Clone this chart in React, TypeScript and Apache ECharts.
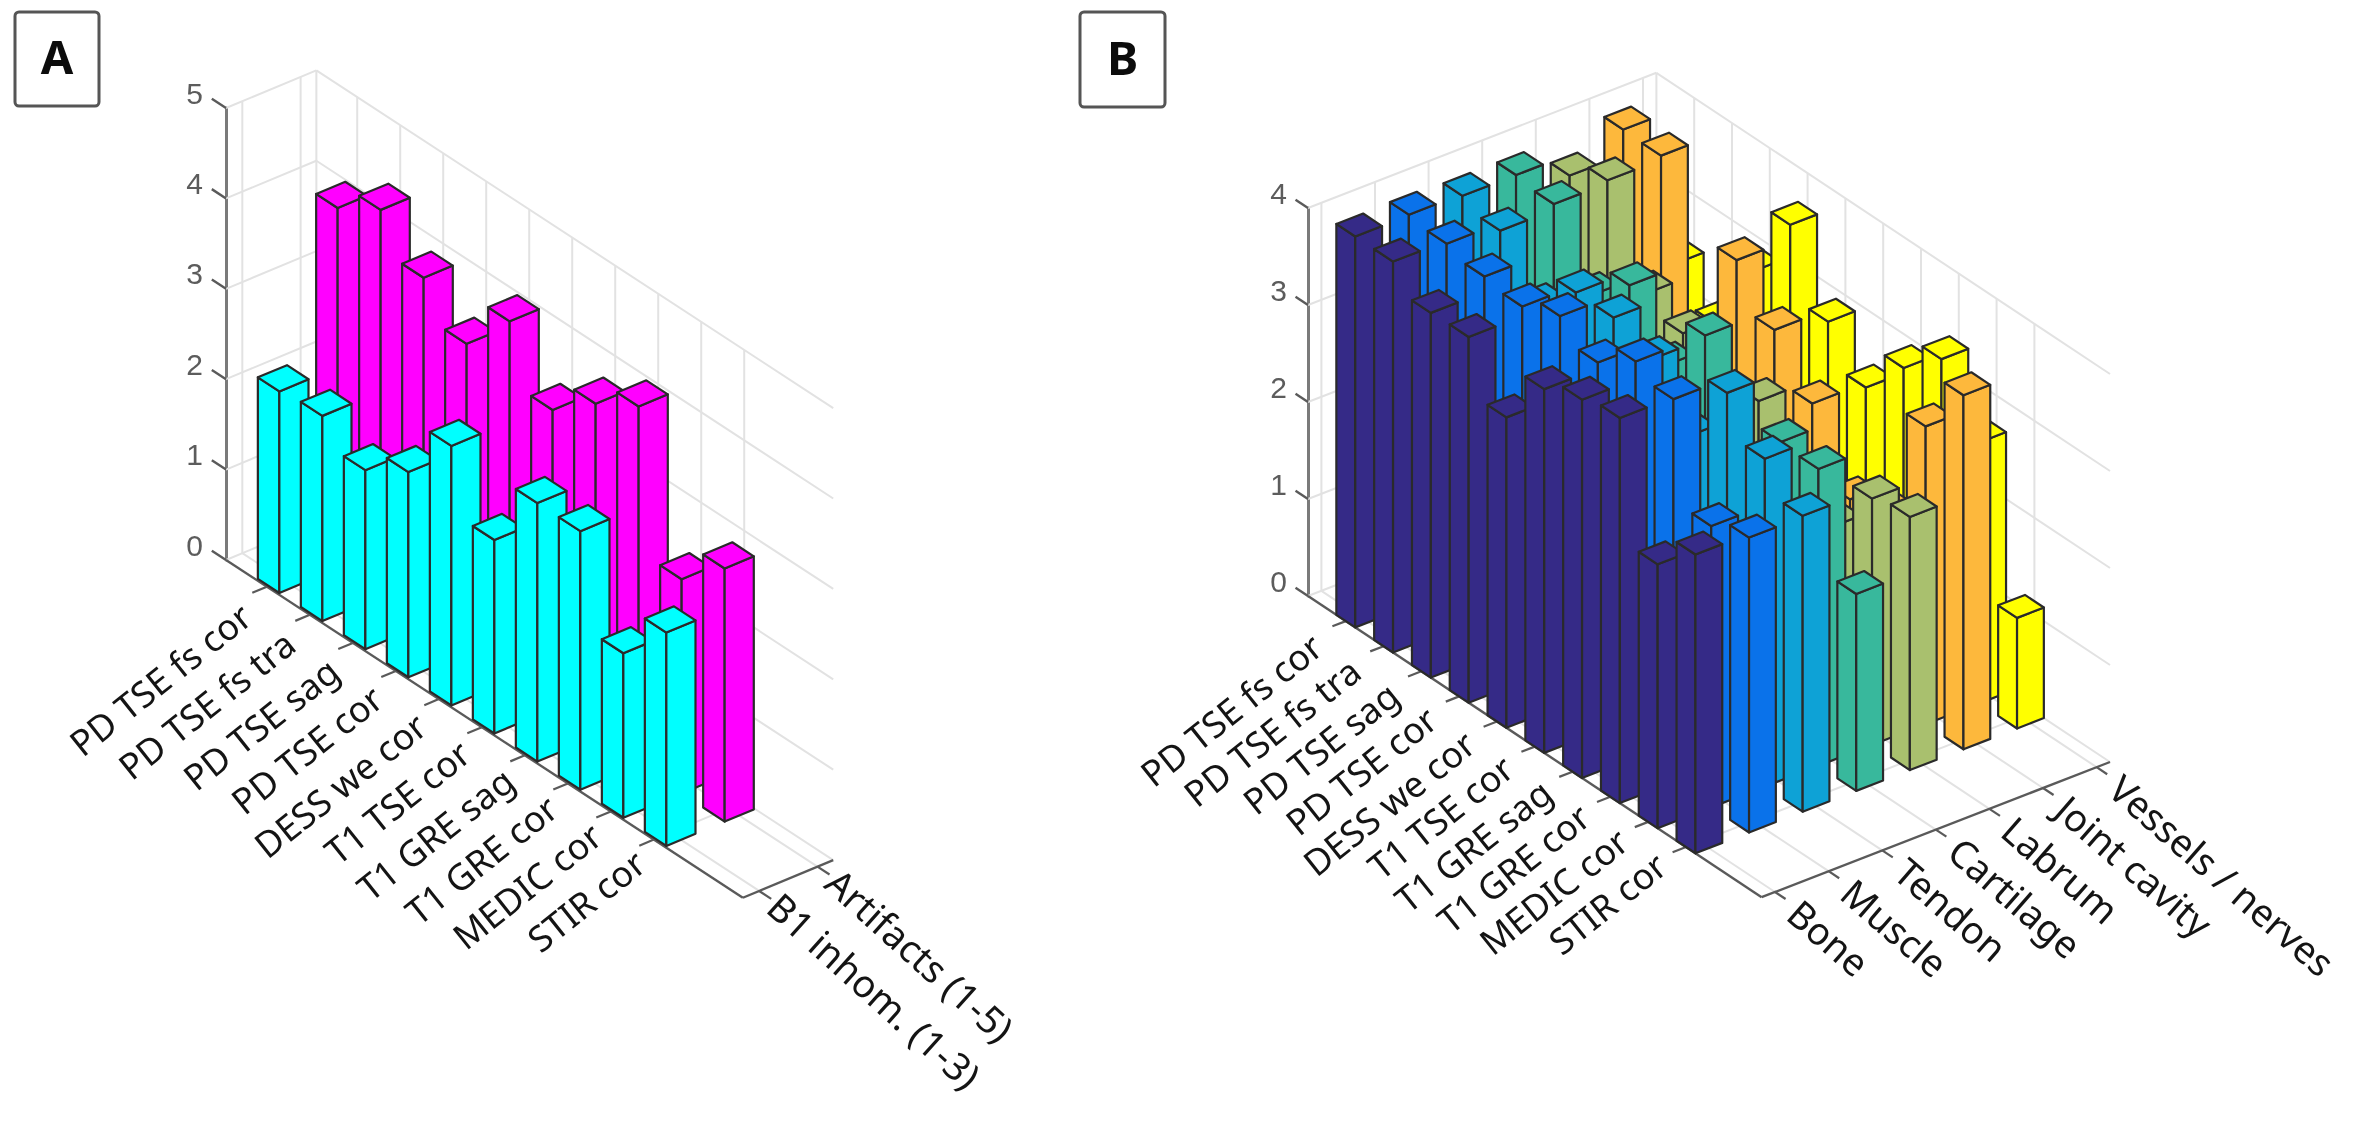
import React, { useEffect, useRef } from "react";
import * as echarts from "echarts";

const categories = ["PD TSE fs cor", "PD TSE fs tra", "PD TSE sag", "PD TSE cor", "DESS we cor", "T1 TSE cor", "T1 GRE sag", "T1 GRE cor", "MEDIC cor", "STIR cor"];

const namesA = ["B1 inhom. (1-3)", "Artifacts (1-5)"];
const b1Inhom = [2.23, 2.27, 1.98, 2.27, 2.87, 2.14, 2.86, 2.86, 1.82, 2.36];
const artifacts = [3.99, 4.28, 3.84, 3.42, 3.98, 3.31, 3.69, 3.97, 2.37, 2.8];
const colorsA = ["#00ffff", "#ff00ff"];

const namesB = ["Bone", "Muscle", "Tendon", "Cartilage", "Labrum", "Joint cavity", "Vessels / nerves"];
const bone = [4.03, 4.03, 3.76, 3.77, 3.2, 3.75, 3.9, 3.97, 2.72, 3.08];
const muscle = [4.04, 4.0, 3.92, 3.87, 4.03, 3.81, 4.08, 3.95, 2.9, 3.04];
const tendon = [4.02, 3.92, 3.4, 3.8, 3.8, 3.63, 3.1, 3.8, 3.38, 3.05];
const cartilage = [4.02, 3.98, 3.3, 3.66, 3.1, 3.66, 2.5, 3.08, 3.06, 2.03];
const labrum = [3.8, 4.01, 3.1, 2.95, 2.5, 2.77, 2.2, 2.0, 2.54, 2.61];
const jointCavity = [4.06, 4.05, 2.3, 3.49, 3.03, 2.53, 1.8, 1.9, 3.07, 3.65];
const vessels = [2.47, 2.11, 2.9, 3.64, 2.9, 2.48, 2.94, 3.29, 2.69, 1.14];
const colorsB = ["#352a87", "#0a72ea", "#0ea2d6", "#38b89c", "#a9c06e", "#fdb83c", "#ffff00"];

const ticksZA = [0, 1, 2, 3, 4, 5];
const ticksZB = [0, 1, 2, 3, 4];

type Panel = {
  i0: number; iMax: number; j0: number; jMax: number; zMax: number;
  eiy: number; ejx: number; ejy: number; halfW: number;
  names: string[]; colors: string[]; values: number[][]; zTicks: number[];
  catFirst: number[]; catLast: number[]; serOffset: number[]; serAngle: number;
};

const panelA: Panel = {
  i0: 0.05, iMax: 12.07, j0: 0.72, jMax: 2.27, zMax: 5,
  eiy: 28.1, ejx: 58.3, ejy: -24.3, halfW: 0.25,
  names: namesA, colors: colorsA, values: [b1Inhom, artifacts], zTicks: ticksZA,
  catFirst: [-21, 24], catLast: [-14, 18], serOffset: [15, 9], serAngle: 42,
};
const panelB: Panel = {
  i0: 0, iMax: 12, j0: 0.75, jMax: 7.25, zMax: 4,
  eiy: 25.1, ejx: 53.6, ejy: -20.8, halfW: 0.25,
  names: namesB, colors: colorsB, values: [bone, muscle, tendon, cartilage, labrum, jointCavity, vessels], zTicks: ticksZB,
  catFirst: [-29, 20], catLast: [-25, 13], serOffset: [19, 15], serAngle: 41,
};

const CAT_FONT = '36px "Noto Sans"';
const SER_FONT = '38px "Noto Sans"';
const TEXT_FILL = "#141414";
const GRID_STROKE = "#e2e2e2";
const AXIS_STROKE = "#5a5a5a";

function projector(api: any, p: Panel) {
  return (i: number, j: number, k: number): number[] => {
    const c = api.coord([i, k]);
    return [c[0] + (j - p.j0) * p.ejx, c[1] + (i - p.i0) * p.eiy + (j - p.j0) * p.ejy];
  };
}

function seg(a: number[], b: number[], stroke: string, lineWidth: number) {
  return {
    type: "line",
    shape: { x1: a[0], y1: a[1], x2: b[0], y2: b[1] },
    style: { stroke, lineWidth, fill: null },
  };
}

function wallSeries(p: Panel, gridIndex: number) {
  return {
    type: "custom",
    coordinateSystem: "cartesian2d",
    xAxisIndex: gridIndex,
    yAxisIndex: gridIndex,
    silent: true,
    clip: false,
    z: 2,
    data: [[p.i0, 0]],
    renderItem: (_: any, api: any) => {
      const P = projector(api, p);
      const kids: any[] = [];
      const serTicks = p.names.map((_n, n) => n + 1);
      const catTicks = categories.map((_c, n) => n + 1);
      for (const k of p.zTicks) {
        kids.push(seg(P(p.i0, p.j0, k), P(p.i0, p.jMax, k), GRID_STROKE, 2));
        kids.push(seg(P(p.i0, p.jMax, k), P(p.iMax, p.jMax, k), GRID_STROKE, 2));
      }
      for (const j of serTicks) {
        kids.push(seg(P(p.i0, j, 0), P(p.i0, j, p.zMax), GRID_STROKE, 2));
        kids.push(seg(P(p.i0, j, 0), P(p.iMax, j, 0), GRID_STROKE, 2));
      }
      for (const i of catTicks) {
        kids.push(seg(P(i, p.jMax, 0), P(i, p.jMax, p.zMax), GRID_STROKE, 2));
        kids.push(seg(P(i, p.j0, 0), P(i, p.jMax, 0), GRID_STROKE, 2));
      }
      kids.push(seg(P(p.i0, p.jMax, 0), P(p.i0, p.jMax, p.zMax), GRID_STROKE, 2));
      kids.push(seg(P(p.i0, p.j0, 0), P(p.iMax, p.j0, 0), AXIS_STROKE, 2.4));
      kids.push(seg(P(p.iMax, p.j0, 0), P(p.iMax, p.jMax, 0), AXIS_STROKE, 2.4));
      for (const k of p.zTicks) {
        kids.push(seg(P(p.i0, p.j0, k), P(p.i0 - 0.33, p.j0, k), AXIS_STROKE, 2.4));
      }
      for (const i of catTicks) {
        kids.push(seg(P(i, p.j0, 0), P(i, p.j0 - 0.25, 0), AXIS_STROKE, 2.2));
      }
      for (const j of serTicks) {
        kids.push(seg(P(p.iMax, j, 0), P(p.iMax + 0.28, j, 0), AXIS_STROKE, 2.2));
      }
      return { type: "group", children: kids };
    },
  };
}

function barSeries(p: Panel, gridIndex: number) {
  const rows: number[][] = [];
  for (let j = p.values.length; j >= 1; j--) {
    p.values[j - 1].forEach((v, n) => rows.push([n + 1, j, v]));
  }
  return {
    type: "custom",
    coordinateSystem: "cartesian2d",
    xAxisIndex: gridIndex,
    yAxisIndex: gridIndex,
    silent: true,
    clip: false,
    z: 3,
    encode: { x: 0, y: 2 },
    data: rows,
    renderItem: (_: any, api: any) => {
      const P = projector(api, p);
      const i = api.value(0), j = api.value(1), v = api.value(2);
      const h = p.halfW;
      const fill = p.colors[j - 1];
      const style = { fill, stroke: "#2a2a2a", lineWidth: 2.2, lineJoin: "round" };
      const face = (pts: number[][]) => ({ type: "polygon", shape: { points: pts }, style });
      return {
        type: "group",
        children: [
          face([P(i - h, j - h, 0), P(i + h, j - h, 0), P(i + h, j - h, v), P(i - h, j - h, v)]),
          face([P(i + h, j - h, 0), P(i + h, j + h, 0), P(i + h, j + h, v), P(i + h, j - h, v)]),
          face([P(i - h, j - h, v), P(i + h, j - h, v), P(i + h, j + h, v), P(i - h, j + h, v)]),
        ],
      };
    },
  };
}

function labelSeries(p: Panel, gridIndex: number) {
  return {
    type: "custom",
    coordinateSystem: "cartesian2d",
    xAxisIndex: gridIndex,
    yAxisIndex: gridIndex,
    silent: true,
    clip: false,
    z: 4,
    data: [[p.i0, 0]],
    renderItem: (_: any, api: any) => {
      const P = projector(api, p);
      const kids: any[] = [];
      categories.forEach((c, n) => {
        const a = P(n + 1, p.j0, 0);
        const t = n / (categories.length - 1);
        kids.push({
          type: "text",
          x: a[0] + p.catFirst[0] + t * (p.catLast[0] - p.catFirst[0]),
          y: a[1] + p.catFirst[1] + t * (p.catLast[1] - p.catFirst[1]),
          rotation: (38.5 * Math.PI) / 180,
          style: { text: c, font: CAT_FONT, fill: TEXT_FILL, align: "right", verticalAlign: "middle" },
        });
      });
      p.names.forEach((c, n) => {
        const a = P(p.iMax, n + 1, 0);
        kids.push({
          type: "text",
          x: a[0] + p.serOffset[0],
          y: a[1] + p.serOffset[1],
          rotation: (-p.serAngle * Math.PI) / 180,
          style: { text: c, font: SER_FONT, fill: TEXT_FILL, align: "left", verticalAlign: "middle" },
        });
      });
      return { type: "group", children: kids };
    },
  };
}

function zAxis(p: Panel, gridIndex: number, margin: number) {
  return {
    type: "value",
    gridIndex,
    min: 0,
    max: p.zMax,
    interval: 1,
    position: "left",
    splitLine: { show: false },
    axisTick: { show: false },
    axisLine: { show: true, lineStyle: { color: "#7a7a7a", width: 3 } },
    axisLabel: {
      show: true,
      margin,
      color: "#5c5c5c",
      fontFamily: "Liberation Sans",
      fontSize: 30,
      verticalAlign: "bottom",
    },
  };
}

function panelBox(x: number, y: number, w: number, h: number, t: string) {
  return [
    { type: "rect", shape: { x, y, width: w, height: h, r: 4 }, style: { fill: "#ffffff", stroke: "#555555", lineWidth: 3 } },
    {
      type: "text",
      x: x + w / 2,
      y: y + h / 2 - 3,
      style: { text: t, font: '700 47px "Noto Sans"', fill: "#0c0c0c", align: "center", verticalAlign: "middle" },
    },
  ];
}

export default function App() {
  const ref = useRef<HTMLDivElement>(null);
  useEffect(() => {
    const chart = echarts.init(ref.current!, undefined, { renderer: "svg" });
    chart.setOption({
      animation: false,
      backgroundColor: "#ffffff",
      grid: [
        { left: 226, top: 108, width: (panelA.iMax - panelA.i0) * 43, height: 452, containLabel: false },
        { left: 1308, top: 208, width: (panelB.iMax - panelB.i0) * 37.8, height: 388, containLabel: false },
      ],
      xAxis: [
        { type: "value", gridIndex: 0, min: panelA.i0, max: panelA.iMax, show: false },
        { type: "value", gridIndex: 1, min: panelB.i0, max: panelB.iMax, show: false },
      ],
      yAxis: [zAxis(panelA, 0, 23), zAxis(panelB, 1, 21)],
      series: [
        wallSeries(panelA, 0),
        barSeries(panelA, 0),
        labelSeries(panelA, 0),
        wallSeries(panelB, 1),
        barSeries(panelB, 1),
        labelSeries(panelB, 1),
      ],
      graphic: [...panelBox(15, 12, 84, 94, "A"), ...panelBox(1080, 12, 85, 95, "B")],
    });
    return () => chart.dispose();
  }, []);
  return <div ref={ref} style={{ position: "fixed", left: 0, top: 0, width: 2362, height: 1123, filter: "blur(0.7px)" }} />;
}
